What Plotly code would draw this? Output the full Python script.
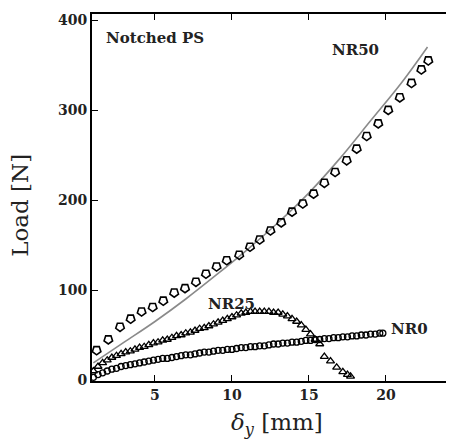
import plotly.graph_objects as go

# NR50 measured (pentagon markers)
nr50_x = [1.21, 1.97, 2.73, 3.42, 4.13, 4.85, 5.54, 6.25, 6.95, 7.66, 8.31, 9.0, 9.66, 10.47,
          11.17, 11.8, 12.5, 13.2, 13.9, 14.6, 15.3, 16.0, 16.7, 17.45, 18.1, 18.75, 19.5,
          20.15, 20.9, 21.66, 22.3, 22.75]
nr50_y = [33, 45, 59, 68, 76, 81, 88, 97, 102, 109, 118, 126, 133, 139, 148, 156, 166, 175,
          187, 196, 207, 219, 231, 244, 257, 271, 285, 300, 314, 330, 345, 355]

# NR50 model line
fit_x = [1.0, 3.0, 5.0, 7.0, 9.0, 11.0, 13.0, 15.0, 17.0, 19.0, 21.0, 22.7]
fit_y = [19, 42, 65, 90, 117, 145, 175, 208, 246, 288, 330, 370]

# NR25 measured (triangles)
nr25_x = [1.0, 1.3, 1.6, 1.9, 2.2, 2.5, 2.8, 3.1, 3.4, 3.7, 4.0, 4.3, 4.6, 4.9, 5.2, 5.5, 5.8,
          6.1, 6.4, 6.7, 7.0, 7.3, 7.6, 7.9, 8.2, 8.5, 8.8, 9.1, 9.4, 9.7, 10.0, 10.3, 10.6,
          10.9, 11.2, 11.5, 11.8, 12.1, 12.4, 12.7, 13.0, 13.3, 13.6, 13.9, 14.2, 14.5, 14.8,
          15.1, 15.4, 15.7, 16.0, 16.4, 16.8, 17.2, 17.5, 17.7]
nr25_y = [10, 15, 19, 22, 25, 27, 29, 31, 32, 34, 36, 37, 39, 41, 42, 44, 45, 47, 49, 50, 52,
          53, 55, 57, 58, 60, 62, 64, 66, 68, 70, 72, 74, 75, 76, 76, 76, 76, 76, 75, 75, 73,
          71, 68, 65, 61, 56, 51, 45, 40, 26, 21, 14, 9, 6, 4]

# NR0 measured
nr0_x = [1.0, 1.3, 1.6, 1.9, 2.2, 2.5, 2.8, 3.1, 3.4, 3.7, 4.0, 4.3, 4.6, 4.9, 5.2, 5.5, 5.8,
         6.1, 6.4, 6.7, 7.0, 7.3, 7.6, 7.9, 8.2, 8.5, 8.8, 9.1, 9.4, 9.7, 10.0, 10.3, 10.6,
         10.9, 11.2, 11.5, 11.8, 12.1, 12.4, 12.7, 13.0, 13.3, 13.6, 13.9, 14.2, 14.5, 14.8,
         15.1, 15.4, 15.7, 16.0, 16.3, 16.6, 16.9, 17.2, 17.5, 17.8, 18.1, 18.4, 18.7, 19.0,
         19.3, 19.6, 19.8]
nr0_y = [3, 6, 8, 10, 12, 13, 15, 16, 17, 18, 19, 20, 21, 22, 23, 24, 24, 25, 26, 27, 28, 28,
         29, 30, 31, 31, 32, 33, 33, 34, 34, 35, 36, 36, 37, 37, 38, 38, 39, 40, 40, 41, 41,
         42, 42, 43, 44, 44, 45, 45, 46, 46, 47, 47, 48, 48, 49, 49, 50, 50, 51, 51, 52, 52]

x_ticks = [5, 10, 15, 20]
y_ticks = [0, 100, 200, 300, 400]

SERIF = "DejaVu Serif"

fig = go.Figure()
fig.add_trace(go.Scatter(x=fit_x, y=fit_y, mode="lines", line=dict(color="#8a8a8a", width=1.6,
                         shape="spline"), showlegend=False))
fig.add_trace(go.Scatter(x=nr0_x, y=nr0_y, mode="markers", showlegend=False,
                         marker=dict(symbol="circle-open", size=6, color="black",
                                     line=dict(width=1.3, color="black"))))
fig.add_trace(go.Scatter(x=nr25_x, y=nr25_y, mode="markers", showlegend=False,
                         marker=dict(symbol="triangle-up-open", size=7, color="black",
                                     line=dict(width=1.3, color="black"))))
fig.add_trace(go.Scatter(x=nr50_x, y=nr50_y, mode="markers", showlegend=False,
                         marker=dict(symbol="pentagon-open", size=9, color="black", angle=180,
                                     line=dict(width=1.6, color="black"))))

ann_font = dict(family=SERIF, size=15, color="#222")
for txt, ax, ay in [("<b>Notched PS</b>", 5.0, 380), ("<b>NR50</b>", 18.0, 367),
                    ("<b>NR25</b>", 10.0, 84), ("<b>NR0</b>", 21.5, 57)]:
    fig.add_annotation(x=ax, y=ay, xref="x", yref="y", text=txt, showarrow=False,
                       font=ann_font)

# axis titles as paper annotations
fig.add_annotation(x=-0.199, y=0.48, xref="paper", yref="paper", text="Load [N]",
                   textangle=-90, showarrow=False, xanchor="center", yanchor="middle",
                   font=dict(family=SERIF, size=23, color="#222"))
fig.add_annotation(x=0.511, y=-0.117, xref="paper", yref="paper",
                   text="<i>δ<sub>y</sub></i> [mm]", showarrow=False,
                   xanchor="center", yanchor="middle",
                   font=dict(family=SERIF, size=23, color="#222"))

fig.update_layout(
    width=446, height=440,
    margin=dict(l=84, r=0, t=6, b=67, autoexpand=False),
    paper_bgcolor="white", plot_bgcolor="white",
    font=dict(family=SERIF, color="black"),
    xaxis=dict(range=[0.91, 24.42], tickvals=x_ticks, ticks="inside", ticklen=6,
               tickwidth=1.2, tickcolor="black", showline=True, linecolor="black",
               linewidth=2, mirror="ticks", showgrid=False, zeroline=False, automargin=False,
               tickfont=dict(family=SERIF, size=14, color="#222", weight="bold")),
    yaxis=dict(range=[-1.1, 406.7], tickvals=y_ticks, ticks="inside", ticklen=6,
               tickwidth=1.2, tickcolor="black", showline=True, linecolor="black",
               linewidth=2, showgrid=False, zeroline=False, automargin=False,
               tickfont=dict(family=SERIF, size=14, color="#222", weight="bold")),
)

fig.write_html("out.html")
